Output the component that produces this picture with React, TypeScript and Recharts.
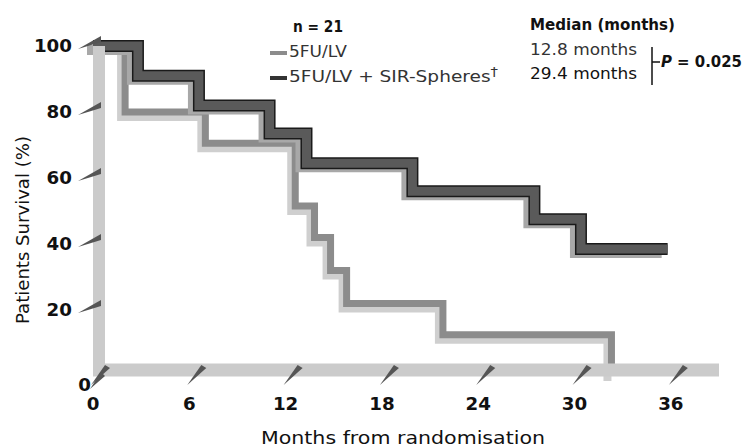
import { LineChart, Line, XAxis, YAxis } from "recharts";

// months at which each step starts, survival (%)
const sirMonths = [0, 2.8, 6.6, 11.0, 13.3, 19.9, 27.5, 30.4, 35.8];
const sirSurvival = [100, 91, 82, 73.5, 64.5, 56, 47.5, 38.5, 38.5];
const ctrlMonths = [0, 2.0, 7.0, 12.6, 13.8, 14.8, 15.8, 21.8, 32.3];
const ctrlSurvival = [100, 80, 70.5, 51.5, 42, 32, 22, 12.5, 0];

const xTicks = [0, 6, 12, 18, 24, 30, 36];
const yTicks = [0, 20, 40, 60, 80, 100];

const sirData = sirMonths.map((m, i) => ({ month: m, survival: sirSurvival[i] }));
const ctrlData = ctrlMonths.map((m, i) => ({ month: m, survival: ctrlSurvival[i] }));

const FONT = "DejaVu Sans, Verdana, sans-serif";
const DIGIT_W = 12.7;

function XTick(props: any) {
  const { x, y, payload } = props;
  const s = String(payload.value);
  return (
    <g>
      <path d={`M${x - 2},${y + 9} L${x + 12},${y - 11} L${x + 17},${y - 8} Z`} fill="#555" />
      <text
        x={x}
        y={y + 28}
        textAnchor="middle"
        dominantBaseline="central"
        fontFamily={FONT}
        fontWeight="bold"
        fontSize={17}
        textLength={DIGIT_W * s.length}
        lengthAdjust="spacingAndGlyphs"
        fill="#111"
      >
        {s}
      </text>
    </g>
  );
}

function YTick(props: any) {
  const { x, y, payload } = props;
  const s = String(payload.value);
  const zero = payload.value === 0;
  return (
    <g>
      {zero ? (
        <path d={`M${x - 3},${y + 13} L${x + 8},${y - 4} L${x + 12},${y} Z`} fill="#555" />
      ) : (
        <path d={`M${x - 15},${y + 3} L${x + 8},${y - 10} L${x + 8},${y - 4} Z`} fill="#555" />
      )}
      <text
        x={zero ? x - 2 : x - 21}
        y={zero ? y + 9 : y}
        textAnchor="end"
        dominantBaseline="central"
        fontFamily={FONT}
        fontWeight="bold"
        fontSize={17}
        textLength={DIGIT_W * s.length}
        lengthAdjust="spacingAndGlyphs"
        fill="#111"
      >
        {s}
      </text>
    </g>
  );
}

const css = `
.recharts-xAxis .recharts-cartesian-axis-line { transform: translateY(-6px); }
.recharts-yAxis .recharts-cartesian-axis-line { transform: translateX(6px); }
.shadow-gray { transform: translate(-4px, 5px); }
.shadow-dark { transform: translate(-6px, 4px); }
`;

export default function App() {
  return (
    <div style={{ position: "absolute", left: 0, top: 0, width: 745, height: 446, background: "#fff" }}>
      <style>{css}</style>
      <LineChart width={745} height={446} margin={{ top: 46, right: 26, bottom: 0, left: 0 }}>
        <XAxis
          type="number"
          dataKey="month"
          domain={[0, 39]}
          ticks={xTicks}
          interval={0}
          height={70}
          tickSize={0}
          tickMargin={0}
          axisLine={{ stroke: "#cbcbcb", strokeWidth: 13 }}
          tick={(p: any) => <XTick {...p} />}
        />
        <YAxis
          type="number"
          domain={[0, 100]}
          ticks={yTicks}
          interval={0}
          width={93}
          tickSize={0}
          tickMargin={0}
          axisLine={{ stroke: "#cbcbcb", strokeWidth: 12 }}
          tick={(p: any) => <YTick {...p} />}
        />
        <Line
          data={ctrlData}
          dataKey="survival"
          type="stepAfter"
          className="shadow-gray"
          stroke="#cfcfcf"
          strokeWidth={8}
          dot={false}
          activeDot={false}
          isAnimationActive={false}
        />
        <Line
          data={ctrlData}
          dataKey="survival"
          type="stepAfter"
          stroke="#8c8c8c"
          strokeWidth={7}
          dot={false}
          activeDot={false}
          isAnimationActive={false}
        />
        <Line
          data={sirData}
          dataKey="survival"
          type="stepAfter"
          className="shadow-dark"
          stroke="#a8a8a8"
          strokeWidth={10}
          dot={false}
          activeDot={false}
          isAnimationActive={false}
        />
        <Line
          data={sirData}
          dataKey="survival"
          type="stepAfter"
          stroke="#1a1a1a"
          strokeWidth={12}
          dot={false}
          activeDot={false}
          isAnimationActive={false}
        />
        <Line
          data={sirData}
          dataKey="survival"
          type="stepAfter"
          stroke="#5a5a5a"
          strokeWidth={9}
          dot={false}
          activeDot={false}
          isAnimationActive={false}
        />
      </LineChart>

      <svg
        width={745}
        height={446}
        style={{ position: "absolute", left: 0, top: 0, pointerEvents: "none" }}
        fontFamily={FONT}
        fill="#111"
      >
        <text x={318} y={27} textAnchor="middle" dominantBaseline="central" fontWeight="bold" fontSize={15} textLength={50} lengthAdjust="spacingAndGlyphs">
          n = 21
        </text>
        <line x1={270} x2={287} y1={53} y2={53} stroke="#8c8c8c" strokeWidth={4} />
        <text x={289} y={52} dominantBaseline="central" fontSize={15} textLength={58} lengthAdjust="spacingAndGlyphs" fill="#333">
          5FU/LV
        </text>
        <line x1={270} x2={287} y1={78} y2={78} stroke="#333" strokeWidth={4} />
        <text x={289} y={77} dominantBaseline="central" fontSize={15} textLength={209} lengthAdjust="spacingAndGlyphs" fill="#333">
          5FU/LV + SIR-Spheres<tspan dy={-5} fontSize={12}>†</tspan>
        </text>

        <text x={530} y={25} dominantBaseline="central" fontWeight="bold" fontSize={15} textLength={145} lengthAdjust="spacingAndGlyphs">
          Median (months)
        </text>
        <text x={530} y={50} dominantBaseline="central" fontSize={15} textLength={107} lengthAdjust="spacingAndGlyphs" fill="#333">
          12.8 months
        </text>
        <text x={530} y={74} dominantBaseline="central" fontSize={15} textLength={107} lengthAdjust="spacingAndGlyphs">
          29.4 months
        </text>
        <line x1={652} x2={652} y1={47} y2={85} stroke="#111" strokeWidth={1.5} />
        <line x1={652} x2={660} y1={62} y2={62} stroke="#111" strokeWidth={1.5} />
        <text x={661} y={62} dominantBaseline="central" fontWeight="bold" fontSize={15} textLength={81} lengthAdjust="spacingAndGlyphs">
          <tspan fontStyle="italic">P</tspan> = 0.025
        </text>

        <text x={403} y={437} textAnchor="middle" dominantBaseline="central" fontSize={18} textLength={284} lengthAdjust="spacingAndGlyphs">
          Months from randomisation
        </text>
        <text
          x={22}
          y={230}
          transform="rotate(-90, 22, 230)"
          textAnchor="middle"
          dominantBaseline="central"
          fontSize={18}
          textLength={188}
          lengthAdjust="spacingAndGlyphs"
        >
          Patients Survival (%)
        </text>
      </svg>
    </div>
  );
}
